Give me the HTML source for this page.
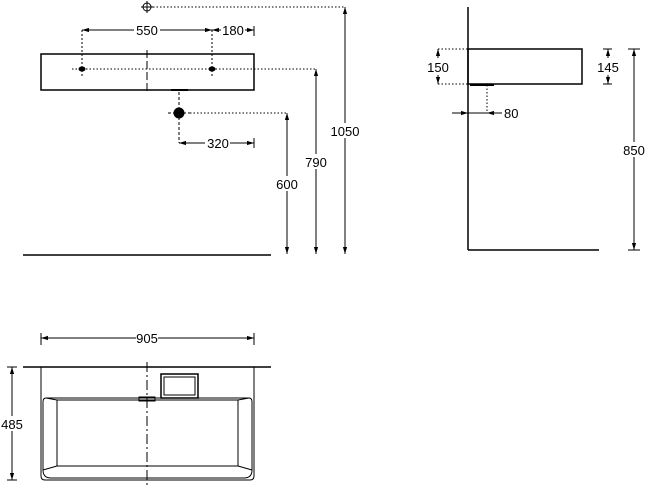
<!DOCTYPE html>
<html><head><style>body{margin:0;background:#fff}svg{display:block}text{font-family:"Liberation Sans",sans-serif;font-size:13px;fill:#000}</style></head><body>
<svg width="647" height="486" viewBox="0 0 647 486" xmlns="http://www.w3.org/2000/svg">
<defs><marker id="a" viewBox="0 0 10 10" refX="10" refY="5" markerWidth="7" markerHeight="7" orient="auto-start-reverse"><path d="M0,2L10,5L0,8z" fill="#000"/></marker></defs>
<g stroke="#000" fill="none" stroke-width="1">
<!-- top view -->
<circle cx="147" cy="7" r="4"/><line x1="141" y1="7" x2="153" y2="7"/><line x1="147" y1="1" x2="147" y2="13"/>
<line x1="153" y1="7" x2="345" y2="7" stroke-dasharray="1.5,2"/>
<rect x="41" y="54" width="213" height="36" stroke-width="1.5"/>
<line x1="147" y1="50" x2="147" y2="93" stroke-dasharray="8,3"/>
<line x1="82" y1="30" x2="82" y2="77" stroke-dasharray="2,2"/><line x1="212" y1="30" x2="212" y2="77" stroke-dasharray="2,2"/>
<line x1="254" y1="26" x2="254" y2="36"/>
<line x1="82" y1="30" x2="134" y2="30" marker-start="url(#a)"/><line x1="160" y1="30" x2="212" y2="30" marker-end="url(#a)"/>
<line x1="212" y1="30" x2="221" y2="30" marker-start="url(#a)"/><line x1="245" y1="30" x2="254" y2="30" marker-end="url(#a)"/>
<line x1="72" y1="69" x2="316" y2="69" stroke-dasharray="1.5,2"/>
<ellipse cx="82" cy="69" rx="3" ry="2" fill="#000"/><ellipse cx="212" cy="69" rx="3" ry="2" fill="#000"/>
<line x1="171" y1="90" x2="188" y2="90" stroke-width="2"/>
<line x1="179" y1="92" x2="179" y2="143" stroke-dasharray="3,2"/>
<circle cx="179" cy="113" r="5" fill="#000"/>
<line x1="168" y1="113" x2="190" y2="113" stroke-dasharray="3,2"/>
<line x1="190" y1="113" x2="288" y2="113" stroke-dasharray="1.5,2"/>
<line x1="179" y1="143" x2="205" y2="143" marker-start="url(#a)"/><line x1="230" y1="143" x2="254" y2="143" marker-end="url(#a)"/><line x1="254" y1="138" x2="254" y2="148"/>
<line x1="287" y1="113" x2="287" y2="254" marker-start="url(#a)" marker-end="url(#a)"/>
<line x1="316" y1="69" x2="316" y2="254" marker-start="url(#a)" marker-end="url(#a)"/>
<line x1="345" y1="7" x2="345" y2="254" marker-start="url(#a)" marker-end="url(#a)"/>
<line x1="23" y1="255" x2="271" y2="255" stroke-width="1.5"/>
<!-- side view -->
<line x1="468" y1="7" x2="468" y2="250" stroke-width="1.5"/><line x1="468" y1="250" x2="599" y2="250" stroke-width="1.5"/>
<rect x="468" y="49" width="114" height="35" stroke-width="1.5"/>
<line x1="438" y1="49" x2="468" y2="49" stroke-dasharray="1.5,2"/><line x1="438" y1="84" x2="468" y2="84" stroke-dasharray="1.5,2"/>
<line x1="438" y1="58" x2="438" y2="49" marker-end="url(#a)"/><line x1="438" y1="75" x2="438" y2="84" marker-end="url(#a)"/>
<line x1="608" y1="58" x2="608" y2="49" marker-end="url(#a)"/><line x1="608" y1="75" x2="608" y2="84" marker-end="url(#a)"/>
<line x1="603" y1="49" x2="612" y2="49"/><line x1="603" y1="84" x2="612" y2="84"/>
<line x1="634" y1="49" x2="634" y2="250" marker-start="url(#a)" marker-end="url(#a)"/>
<line x1="628" y1="49" x2="640" y2="49"/><line x1="628" y1="250" x2="640" y2="250"/>
<line x1="470" y1="85" x2="494" y2="85" stroke-width="2"/>
<line x1="487" y1="85" x2="487" y2="113" stroke-dasharray="1.5,2"/>
<line x1="452" y1="113" x2="468" y2="113" marker-end="url(#a)"/><line x1="468" y1="113" x2="487" y2="113"/><line x1="502" y1="113" x2="487" y2="113" marker-end="url(#a)"/>
<!-- bottom view -->
<line x1="41" y1="333" x2="41" y2="345"/><line x1="254" y1="333" x2="254" y2="345"/>
<line x1="41" y1="338" x2="136" y2="338" marker-start="url(#a)"/><line x1="158" y1="338" x2="254" y2="338" marker-end="url(#a)"/>
<line x1="23" y1="367" x2="271" y2="367" stroke-width="1.5"/>
<path d="M41,367V476Q41,480 45,480H250Q254,480 254,476V367"/>
<path d="M46,398H249Q252,398 252,402V470Q252,478 244,478H51Q43,478 43,470V402Q43,398 46,398Z"/>
<rect x="57" y="400" width="181" height="66"/>
<line x1="43" y1="470" x2="57" y2="466"/><line x1="252" y1="470" x2="238" y2="466"/>
<line x1="46" y1="398" x2="57" y2="400"/><line x1="249" y1="398" x2="238" y2="400"/>
<rect x="161" y="374" width="37" height="24" stroke-width="1.5"/><rect x="164" y="377" width="31" height="18"/>
<rect x="139" y="397" width="16" height="4"/>
<line x1="147" y1="362" x2="147" y2="486" stroke-dasharray="10,3,2,3"/>
<line x1="12" y1="367" x2="12" y2="480" marker-start="url(#a)" marker-end="url(#a)"/>
<line x1="7" y1="367" x2="17" y2="367"/><line x1="7" y1="480" x2="17" y2="480"/>
</g>
<g>
<rect x="134" y="22" width="26" height="15" fill="#fff"/><text x="147" y="35" text-anchor="middle">550</text>
<rect x="221" y="22" width="24" height="15" fill="#fff"/><text x="233" y="35" text-anchor="middle">180</text>
<rect x="205" y="136" width="25" height="15" fill="#fff"/><text x="218" y="148" text-anchor="middle">320</text>
<rect x="275" y="176" width="24" height="15" fill="#fff"/><text x="287" y="189" text-anchor="middle">600</text>
<rect x="304" y="154" width="24" height="15" fill="#fff"/><text x="316" y="167" text-anchor="middle">790</text>
<rect x="330" y="123" width="31" height="15" fill="#fff"/><text x="345" y="136" text-anchor="middle">1050</text>
<text x="438" y="72" text-anchor="middle">150</text>
<text x="608" y="72" text-anchor="middle">145</text>
<rect x="622" y="142" width="24" height="15" fill="#fff"/><text x="634" y="155" text-anchor="middle">850</text>
<text x="504" y="118">80</text>
<rect x="136" y="330" width="22" height="15" fill="#fff"/><text x="147" y="343" text-anchor="middle">905</text>
<rect x="0" y="416" width="24" height="15" fill="#fff"/><text x="12" y="429" text-anchor="middle">485</text>
</g>
</svg>
</body></html>
